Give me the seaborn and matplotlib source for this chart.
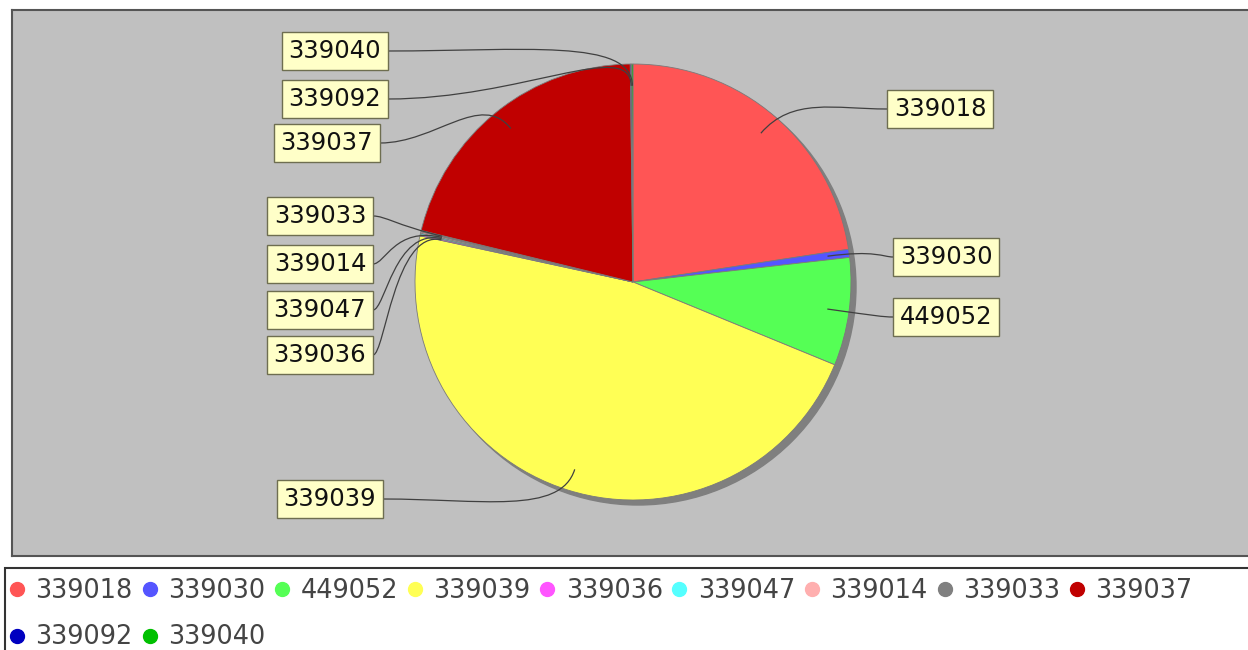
import numpy as np
import matplotlib
matplotlib.use("Agg")
import matplotlib.pyplot as plt
import seaborn as sns
from matplotlib.patches import Circle, Rectangle, PathPatch
from matplotlib.path import Path
from matplotlib.lines import Line2D

# datos del gráfico (porcentajes)
codigos = ["339018", "339030", "449052", "339039", "339036", "339047",
           "339014", "339033", "339037", "339092", "339040"]
valores = [22.6, 0.6, 8.0, 47.2, 0.1, 0.1, 0.1, 0.1, 21.0, 0.1, 0.1]
colores = ["#FF5555", "#5555FF", "#55FF55", "#FFFF55", "#FF55FF", "#55FFFF",
           "#FFAFAF", "#808080", "#C00000", "#0000C0", "#00C000"]

sns.set_style("white")
plt.rcParams['font.family'] = ['DejaVu Sans']

W, H = 1248, 650
CX, CY, R = 633, 282, 218  # centro y radio del pastel en píxeles


def px(x, y):
    return ((x - CX) / R, (CY - y) / R)


fig = plt.figure(figsize=(W / 100, H / 100), dpi=100)
fig.patch.set_facecolor("white")

left, top, bottom, right = 12, 10, 556, 1262
ax = fig.add_axes([left / W, (H - bottom) / H, (right - left) / W, (bottom - top) / H])
ax.set_facecolor("#C0C0C0")

# sombra del pastel
ax.add_patch(Circle((5 / R, -5 / R), 1.0, color="#7F7F7F", zorder=1))

wedges, _ = ax.pie(valores, colors=sns.color_palette(colores), startangle=90,
                   counterclock=False, radius=1.0, frame=True,
                   wedgeprops=dict(edgecolor="#7A7A7A", linewidth=0.6, zorder=2))

x0, y0 = px(left, bottom)
x1, y1 = px(right, top)
ax.set_xlim(x0, x1)
ax.set_ylim(y0, y1)
ax.set_aspect("auto")
ax.set_xticks([])
ax.set_yticks([])
for s in ax.spines.values():
    s.set_color("#555555")
    s.set_linewidth(1.5)

# posición de las etiquetas (borde de la caja más cercano al pastel)
pos_etiquetas = {
    "339040": (388, 51, "izq"),
    "339092": (388, 99, "izq"),
    "339037": (380, 143, "izq"),
    "339033": (373, 216, "izq"),
    "339014": (373, 264, "izq"),
    "339047": (373, 310, "izq"),
    "339036": (373, 355, "izq"),
    "339039": (383, 499, "izq"),
    "339018": (887, 109, "der"),
    "339030": (893, 257, "der"),
    "449052": (893, 317, "der"),
}

fs_etq = 17.5
pad_etq = 0.28
for w, cod in zip(wedges, codigos):
    ang = np.deg2rad((w.theta1 + w.theta2) / 2)
    ax_, ay_ = 0.9 * np.cos(ang), 0.9 * np.sin(ang)
    bx, by = 1.12 * np.cos(ang), 1.12 * np.sin(ang)
    lx, ly, lado = pos_etiquetas[cod]
    ex, ey = px(lx, ly)
    cx2 = ex + 0.55 * (bx - ex)
    verts = [(ax_, ay_), (bx, by), (cx2, ey), (ex, ey)]
    path = Path(verts, [Path.MOVETO, Path.CURVE4, Path.CURVE4, Path.CURVE4])
    ax.add_patch(PathPatch(path, fill=False, edgecolor="#404040", lw=0.9, zorder=3))
    pad = pad_etq * fs_etq * 100 / 72 / R
    caja = dict(boxstyle=f"square,pad={pad_etq}", fc="#FFFFC8", ec="#6E6E50", lw=1.0)
    if lado == "izq":
        ax.text(ex - pad, ey, cod, ha="right", va="center", fontsize=fs_etq,
                color="#111111", zorder=5, bbox=caja)
    else:
        ax.text(ex + pad, ey, cod, ha="left", va="center", fontsize=fs_etq,
                color="#111111", zorder=5, bbox=caja)

# leyenda inferior
fig.patches.append(Rectangle((5 / W, -0.05), 1.1, (H - 568) / H + 0.05,
                             transform=fig.transFigure, facecolor="white",
                             edgecolor="#333333", lw=1.5, zorder=0))

handles = {c: Line2D([], [], marker="o", ls="", markersize=10, markerfacecolor=col,
                     markeredgecolor=col) for c, col in zip(codigos, colores)}
# la leyenda se llena por columnas: reordenar para que quede por filas
orden = ["339018", "339092", "339030", "339040", "449052", "339039", "339036",
         "339047", "339014", "339033", "339037"]
leg = fig.legend([handles[c] for c in orden], orden, ncol=9, loc="upper left",
                 bbox_to_anchor=(10 / W, (H - 578) / H), frameon=False, fontsize=18.4,
                 handlelength=0.55, handletextpad=0.45, columnspacing=0.38,
                 labelspacing=0.8, borderaxespad=0, borderpad=0)
for t in leg.get_texts():
    t.set_color("#444444")

fig.savefig("out.png", dpi=100)
